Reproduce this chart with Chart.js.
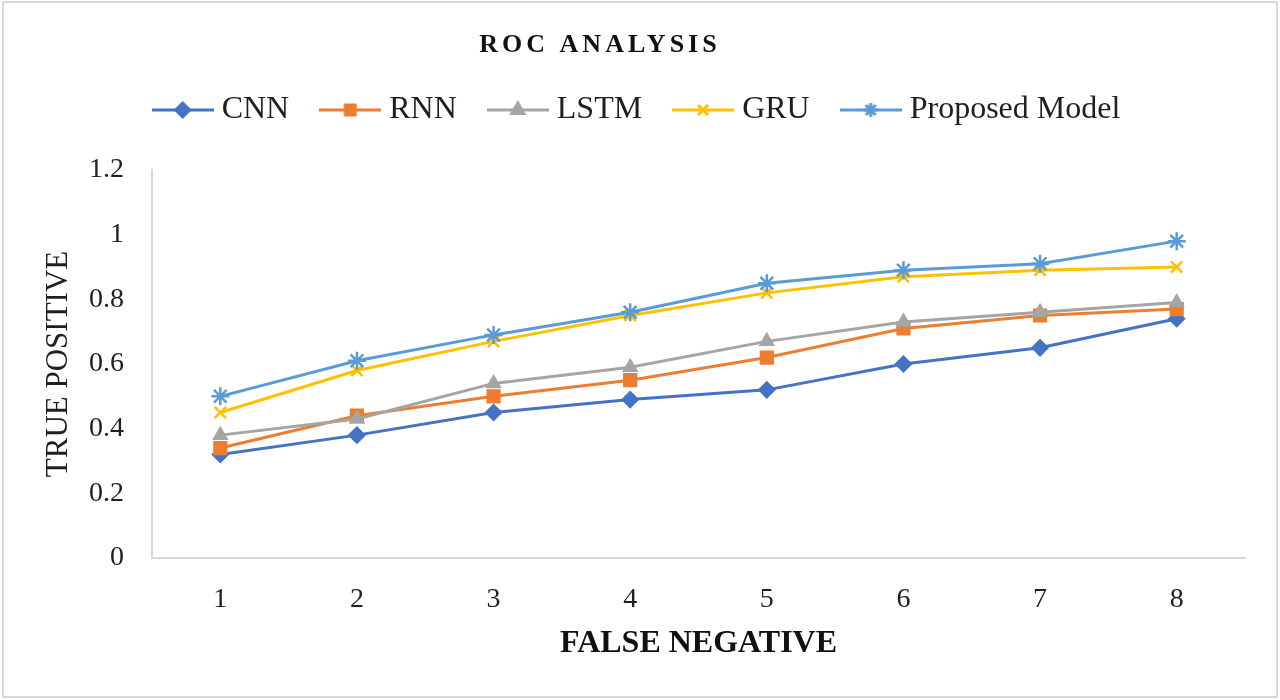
<!DOCTYPE html>
<html>
<head>
<meta charset="utf-8">
<title>ROC Analysis</title>
<script src="https://cdn.jsdelivr.net/npm/chart.js@4.4.1/dist/chart.umd.min.js"></script>
<style>
  html, body { margin: 0; padding: 0; background: #fff; }
  #wrap { width: 1280px; height: 700px; }
</style>
</head>
<body>
<div id="wrap"><canvas id="roc" width="1280" height="700"></canvas></div>
<script>
// Valeurs
const falseNegative = ['1', '2', '3', '4', '5', '6', '7', '8'];
const cnn      = [0.32, 0.38, 0.45, 0.49, 0.52, 0.60, 0.65, 0.74];
const rnn      = [0.34, 0.44, 0.50, 0.55, 0.62, 0.71, 0.75, 0.77];
const lstm     = [0.38, 0.43, 0.54, 0.59, 0.67, 0.73, 0.76, 0.79];
const gru      = [0.45, 0.58, 0.67, 0.75, 0.82, 0.87, 0.89, 0.90];
const proposed = [0.50, 0.61, 0.69, 0.76, 0.85, 0.89, 0.91, 0.98];
const yTicks   = [0, 0.2, 0.4, 0.6, 0.8, 1, 1.2];

const serif = "'Liberation Serif', 'Times New Roman', serif";
const textColor = '#1f1f1f';
const axisColor = '#d9d9d9';

// une série = couleur + marqueur façon Excel
function serie(label, data, color, style, radius, order) {
  return {
    label: label,
    data: data,
    borderColor: color,
    backgroundColor: color,
    borderWidth: 3,
    pointStyle: style,
    pointRadius: radius,
    pointHoverRadius: radius,
    pointBackgroundColor: color,
    pointBorderColor: color,
    pointBorderWidth: (style === 'crossRot' || style === 'star') ? 2.5 : 1.5,
    tension: 0,
    fill: false,
    order: order
  };
}

const datasets = [
  serie('CNN', cnn, '#4472C4', 'rectRot', 8, 5),
  serie('RNN', rnn, '#ED7D31', 'rect', 9, 4),
  serie('LSTM', lstm, '#A5A5A5', 'triangle', 8, 3),
  serie('GRU', gru, '#FFC000', 'crossRot', 8, 2),
  serie('Proposed Model', proposed, '#5B9BD5', 'star', 9, 1)
];

// icône de légende : trait + marqueur
function legendIcon(ds) {
  const c = document.createElement('canvas');
  c.width = 62;
  c.height = 22;
  const g = c.getContext('2d');
  g.strokeStyle = ds.borderColor;
  g.fillStyle = ds.borderColor;
  g.lineWidth = 3;
  g.beginPath();
  g.moveTo(0, 11);
  g.lineTo(62, 11);
  g.stroke();
  Chart.helpers.drawPoint(g, {
    pointStyle: ds.pointStyle,
    radius: 7,
    rotation: 0,
    borderWidth: ds.pointBorderWidth
  }, 31, 11);
  return c;
}
const icons = datasets.map(legendIcon);

// cadre gris + fond blanc + titre
const frame = {
  id: 'frame',
  beforeDraw(chart) {
    const ctx = chart.ctx;
    ctx.save();
    ctx.fillStyle = '#fff';
    ctx.fillRect(0, 0, chart.width, chart.height);
    ctx.strokeStyle = axisColor;
    ctx.lineWidth = 2;
    ctx.strokeRect(3, 2, chart.width - 6, chart.height - 5);
    ctx.restore();
  },
  afterDraw(chart) {
    const ctx = chart.ctx;
    ctx.save();
    ctx.font = 'bold 26px ' + serif;
    ctx.letterSpacing = '4px';
    ctx.fillStyle = '#111';
    ctx.textBaseline = 'middle';
    ctx.textAlign = 'left';
    const txt = 'ROC ANALYSIS';
    const w = ctx.measureText(txt).width;
    ctx.fillText(txt, 600 - w / 2, 45);
    ctx.restore();
  }
};

// espace sous la légende
const legendSpacer = {
  id: 'legendSpacer',
  beforeInit(chart) {
    const fit = chart.legend.fit;
    chart.legend.fit = function () {
      fit.call(this);
      this.height += 34;
    };
  }
};

new Chart(document.getElementById('roc'), {
  type: 'line',
  data: {
    labels: falseNegative,
    datasets: datasets
  },
  plugins: [frame, legendSpacer],
  options: {
    responsive: false,
    animation: false,
    devicePixelRatio: 1,
    layout: { padding: { left: 35, right: 35, top: 56, bottom: 10 } },
    plugins: {
      tooltip: { enabled: false },
      legend: {
        position: 'top',
        labels: {
          usePointStyle: true,
          pointStyleWidth: 46,
          padding: 38,
          color: textColor,
          font: { family: serif, size: 32 },
          sort: (a, b) => a.datasetIndex - b.datasetIndex,
          generateLabels(chart) {
            const items = Chart.defaults.plugins.legend.labels.generateLabels(chart);
            items.forEach(it => { it.pointStyle = icons[it.datasetIndex]; });
            return items;
          }
        }
      }
    },
    scales: {
      x: {
        offset: true,
        grid: { display: false, drawTicks: false },
        border: { display: true, color: axisColor, width: 2 },
        ticks: { color: textColor, padding: 25, font: { family: serif, size: 28 } },
        title: {
          display: true,
          text: 'FALSE NEGATIVE',
          color: '#111',
          padding: { top: 0, bottom: 27 },
          font: { family: serif, size: 32, weight: 'bold' }
        },
        afterFit(scale) { scale.height = 132; }
      },
      y: {
        min: 0,
        max: 1.2,
        afterBuildTicks(scale) { scale.ticks = yTicks.map(v => ({ value: v })); },
        grid: { display: false, drawTicks: false },
        border: { display: true, color: axisColor, width: 2 },
        ticks: {
          color: textColor,
          padding: 28,
          font: { family: serif, size: 28 },
          callback: value => String(Number(value.toFixed(1)))
        },
        title: {
          display: true,
          text: 'TRUE POSITIVE',
          color: textColor,
          padding: { top: 5, bottom: 0 },
          font: { family: serif, size: 31 }
        },
        afterFit(scale) { scale.width = 117; }
      }
    }
  }
});
</script>
</body>
</html>
